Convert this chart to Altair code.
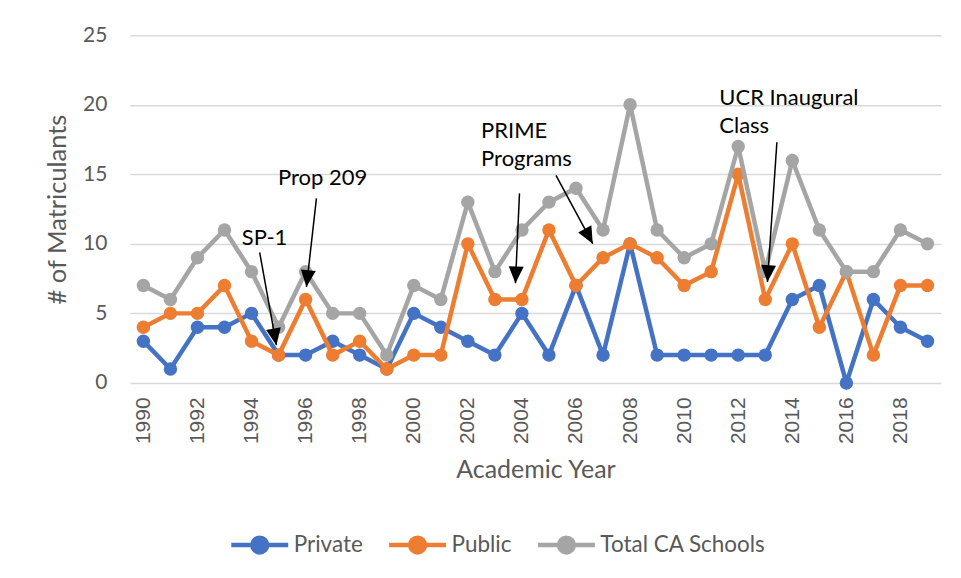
import math
import altair as alt
import pandas as pd

years = list(range(1990, 2020))
private = [3, 1, 4, 4, 5, 2, 2, 3, 2, 1, 5, 4, 3, 2, 5, 2, 7, 2, 10, 2, 2, 2, 2, 2, 6, 7, 0, 6, 4, 3]
public = [4, 5, 5, 7, 3, 2, 6, 2, 3, 1, 2, 2, 10, 6, 6, 11, 7, 9, 10, 9, 7, 8, 15, 6, 10, 4, 8, 2, 7, 7]
total = [7, 6, 9, 11, 8, 4, 8, 5, 5, 2, 7, 6, 13, 8, 11, 13, 14, 11, 20, 11, 9, 10, 17, 8, 16, 11, 8, 8, 11, 10]
series_names = ["Private", "Public", "Total CA Schools"]
series_colors = ["#4472C4", "#ED7D31", "#A5A5A5"]
tick_years = list(range(1990, 2020, 2))
y_ticks = [0, 5, 10, 15, 20, 25]

ann_text = ["SP-1", "Prop 209", "PRIME", "Programs", "UCR Inaugural", "Class"]
ann_x = [1993.64, 1994.98, 2002.49, 2002.49, 2011.3, 2011.3]
ann_y = [10.4, 14.7, 18.15, 16.07, 20.52, 18.44]

arrow_x = [1994.30, 1996.40, 2003.91, 2005.26, 2013.43]
arrow_y = [9.39, 13.27, 13.63, 14.92, 17.31]
arrow_x2 = [1994.92, 1996.03, 2003.76, 2006.62, 2013.08]
arrow_y2 = [2.71, 6.90, 7.16, 10.01, 7.26]

W, H = 812, 348
XD = [1989.5, 2019.5]
YD = [0, 25]
px_x = W / (XD[1] - XD[0])
px_y = H / (YD[1] - YD[0])

rows = []
for name, vals in zip(series_names, [private, public, total]):
    for yr, v in zip(years, vals):
        rows.append({"year": yr, "value": v, "series": name})
df = pd.DataFrame(rows)

ann_df = pd.DataFrame({"x": ann_x, "y": ann_y, "text": ann_text})
arr_df = pd.DataFrame({"x": arrow_x, "y": arrow_y, "x2": arrow_x2, "y2": arrow_y2})
arr_df["angle"] = [
    (math.degrees(math.atan2((b - a) * px_x, (d - c) * px_y)) + 360) % 360
    for a, b, c, d in zip(arrow_x, arrow_x2, arrow_y, arrow_y2)
]

FONT = "Lato"
GREY = "#595959"

xscale = alt.Scale(domain=XD, nice=False, zero=False)
yscale = alt.Scale(domain=YD, nice=False)
cscale = alt.Scale(domain=series_names, range=series_colors)

xaxis = alt.Axis(values=tick_years, format="d", labelAngle=-90, grid=False, ticks=False,
                 domain=False, labelFont="Liberation Sans", labelFontSize=21, labelColor=GREY,
                 labelPadding=14, title="Academic Year", titleFont=FONT, titleFontSize=25,
                 titleFontWeight="normal", titleColor=GREY, titleY=87, titleBaseline="middle")
yaxis = alt.Axis(values=y_ticks, grid=True, gridColor="#D9D9D9", gridWidth=1.5, ticks=False,
                 domain=False, labelFont=FONT, labelFontSize=21, labelColor=GREY, labelPadding=23,
                 title="# of Matriculants", titleFont=FONT, titleFontSize=25.5,
                 titleFontWeight="normal", titleColor=GREY, titleX=-72, titleY=H / 2,
                 titleBaseline="middle", titleAngle=270)

legend_path = ("M-1,0L1,0M0.26,0A0.26,0.26 0 1,1 -0.26,0A0.26,0.26 0 1,1 0.26,0Z")
legend = alt.Legend(title=None, orient="none", direction="horizontal", legendX=99, legendY=479,
                    symbolType=legend_path, symbolSize=3249, symbolStrokeWidth=4.5,
                    labelFont=FONT, labelFontSize=22.5, labelColor=GREY, labelOffset=3,
                    labelLimit=400, columnPadding=16, padding=0)


def X(field):
    return alt.X(field, scale=xscale, axis=xaxis)


def Y(field):
    return alt.Y(field, scale=yscale, axis=yaxis)


layers = []
for i, name in enumerate(series_names):
    base = alt.Chart(df).transform_filter(alt.datum.series == name)
    enc = dict(
        x=X("year:Q"),
        y=Y("value:Q"),
        color=alt.Color("series:N", scale=cscale, legend=legend),
    )
    layers.append(base.mark_line(strokeWidth=4.5).encode(**enc))
    layers.append(base.mark_point(filled=True, size=180, opacity=1).encode(**enc))

arrows = alt.Chart(arr_df).mark_rule(color="black", strokeWidth=1.5).encode(
    x=X("x:Q"), y=Y("y:Q"), x2="x2:Q", y2="y2:Q")
heads = alt.Chart(arr_df).mark_point(
    shape="M0,0L-0.8,1.8L0.8,1.8Z", filled=True, color="black", size=350, opacity=1
).encode(x=X("x2:Q"), y=Y("y2:Q"), angle=alt.Angle("angle:Q", scale=None))
texts = alt.Chart(ann_df).mark_text(align="left", baseline="middle", font=FONT, fontSize=22,
                                     color="black").encode(
    x=X("x:Q"), y=Y("y:Q"), text="text:N")

chart = alt.layer(*layers, arrows, heads, texts).properties(
    width=W, height=H,
    autosize=alt.AutoSizeParams(type="none"),
    padding={"left": 122, "top": 27, "right": 12, "bottom": 190},
).configure_view(stroke=None)

chart.save("out.html", embed_options={"renderer": "svg", "actions": False})
